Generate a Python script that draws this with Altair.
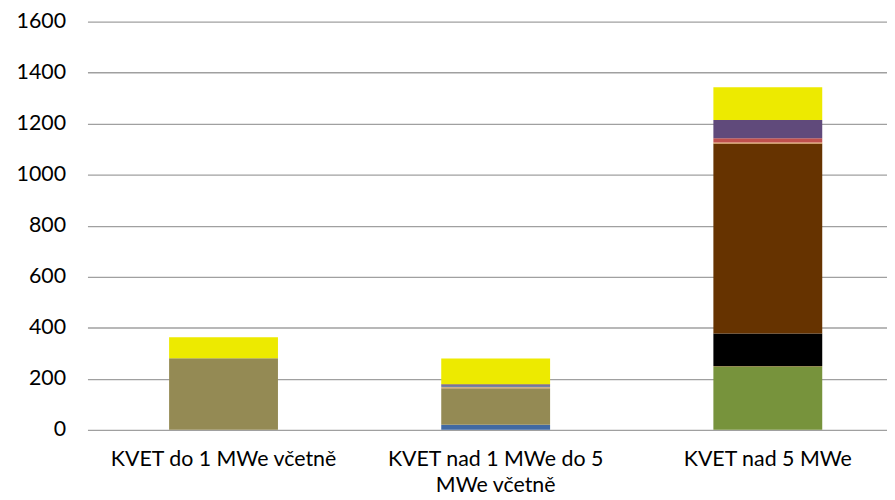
import altair as alt
import pandas as pd

categories = ["KVET do 1 MWe včetně", "KVET nad 1 MWe do 5 MWe včetně", "KVET nad 5 MWe"]
series = ["Řada 1", "Řada 2", "Řada 3", "Řada 4", "Řada 5", "Řada 6", "Řada 7", "Řada 8", "Řada 9", "Řada 10"]
colors = ["#4169A3", "#77933C", "#948A54", "#000000", "#663300", "#E8A25A", "#C0504D", "#6C88A8", "#604A7B", "#EDEA00"]
values = [
    [0, 20, 0],       # Řada 1 blue
    [0, 0, 246],      # Řada 2 green
    [280, 143, 4],    # Řada 3 olive
    [0, 0, 127],      # Řada 4 black
    [0, 0, 745],      # Řada 5 brown
    [0, 4, 4],        # Řada 6 orange
    [0, 0, 17],       # Řada 7 red
    [0, 6, 0],        # Řada 8 grey-blue
    [0, 6, 71],       # Řada 9 purple
    [83, 100, 129],   # Řada 10 yellow
]

rows = []
for si, s in enumerate(series):
    for ci, c in enumerate(categories):
        rows.append({"kategorie": c, "rada": s, "poradi": si, "hodnota": values[si][ci]})
df = pd.DataFrame(rows)

font = "Lato"
fs = 21.5
label_expr = "datum.value == 'KVET nad 1 MWe do 5 MWe včetně' ? ['KVET nad 1 MWe do 5', 'MWe včetně'] : datum.value"

chart = alt.Chart(df).mark_bar().encode(
    x=alt.X("kategorie:N", sort=categories, title=None,
            scale=alt.Scale(range=[0, 822], paddingInner=0.6, paddingOuter=0.3),
            axis=alt.Axis(labelAngle=0, labelExpr=label_expr, domain=False, ticks=False,
                          labelPadding=19, labelFontSize=fs, labelFont=font,
                          labelColor="#000000", labelLimit=400, labelLineHeight=26)),
    y=alt.Y("hodnota:Q", stack="zero", title=None,
            scale=alt.Scale(domain=[0, 1600], nice=False),
            axis=alt.Axis(values=[0, 200, 400, 600, 800, 1000, 1200, 1400, 1600], format="d",
                          domain=False, ticks=False, labelPadding=22, labelFontSize=fs,
                          labelFont=font, labelColor="#000000",
                          gridColor="#A0A0A0", gridWidth=1.3)),
    color=alt.Color("rada:N", sort=series, scale=alt.Scale(domain=series, range=colors), legend=None),
    order=alt.Order("poradi:Q", sort="ascending"),
).properties(
    width=805, height=411,
    autosize=alt.AutoSizeParams(type="none"),
    padding={"left": 80, "top": 12, "right": 0, "bottom": 68},
).configure_view(stroke=None)

chart.save("out.html", embed_options={"renderer": "svg", "actions": False})
